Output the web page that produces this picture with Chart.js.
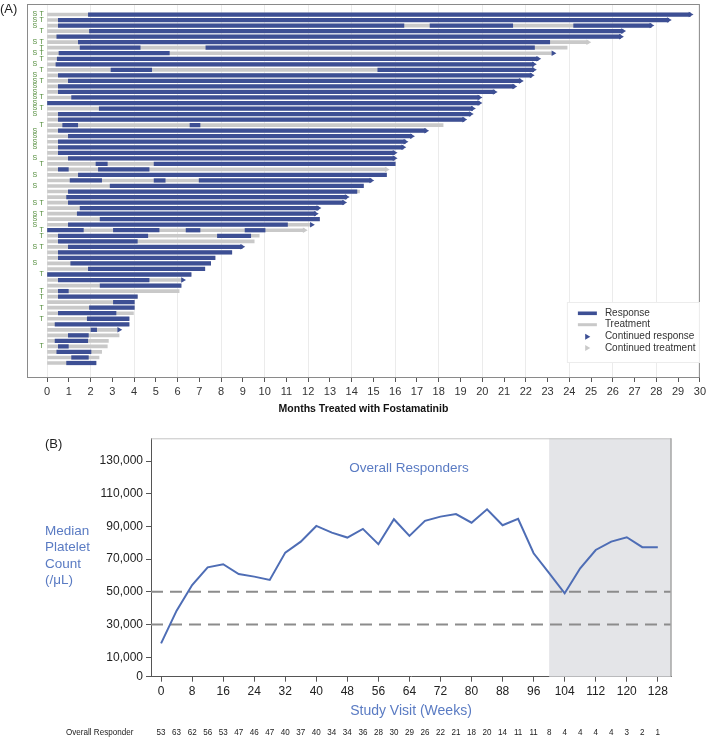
<!DOCTYPE html>
<html>
<head>
<meta charset="utf-8">
<script src="https://cdn.jsdelivr.net/npm/chart.js@4.4.0/dist/chart.umd.min.js"></script>
<style>
  html, body { margin: 0; padding: 0; background: #fff; }
  #wrap { position: relative; width: 709px; height: 739px; overflow: hidden; font-family: 'Liberation Sans', Arial, sans-serif; }
  #swim { position: absolute; left: 0; top: 0; }
  #plt { position: absolute; left: 0; top: 420px; }
  .tag { position: absolute; font-size: 13px; color: #222; line-height: 15px; }
</style>
</head>
<body>
<div id="wrap">
  <canvas id="swim" width="709" height="425"></canvas>
  <canvas id="plt" width="709" height="319"></canvas>
  <div class="tag" style="left:0px;top:1px">(A)</div>
  <div class="tag" style="left:45px;top:436px">(B)</div>
</div>
<script>
// ---------- panel A: swimmer plot, one row per patient (top to bottom) ----------
// end of treatment (months)
var treatEnd = [29.7, 28.7, 27.9, 26.6, 26.5, 25.0, 23.9, 23.4, 22.7, 22.5,
  22.5, 22.4, 21.9, 21.6, 20.7, 20.0, 20.0, 19.7, 19.6, 19.3,
  18.2, 17.55, 16.9, 16.6, 16.5, 16.1, 16.1, 16.0, 15.74, 15.6,
  15.03, 14.54, 14.36, 13.9, 13.78, 12.6, 12.48, 12.52, 12.3, 11.97,
  9.75, 9.52, 9.1, 8.49, 7.72, 7.52, 7.25, 6.62, 6.38, 6.16,
  6.07, 4.15, 4.01, 4.01, 3.97, 3.77, 3.77, 3.45, 3.31, 2.82,
  2.77, 2.51, 2.39, 2.25];

// response periods (months) per row
var responseSpans = [
  [[1.9, 29.7]], [[0.52, 28.7]], [[0.52, 16.4], [17.6, 21.4], [24.2, 27.9]], [[1.95, 26.6]], [[0.45, 26.5]],
  [[1.44, 23.1]], [[1.52, 4.28], [7.3, 22.4]], [[0.55, 5.62]], [[0.47, 22.7]], [[0.41, 22.5]],
  [[2.94, 4.81], [15.2, 22.5]], [[0.52, 22.4]], [[0.98, 21.9]], [[0.52, 21.6]], [[0.52, 20.7]],
  [[1.13, 20.0]], [[0, 20.0]], [[2.4, 19.7]], [[0.52, 19.6]], [[0.52, 19.3]],
  [[0.72, 1.41], [6.57, 7.03]], [[0.52, 17.55]], [[0.98, 16.9]], [[0.52, 16.6]], [[0.52, 16.5]],
  [[0.52, 16.1]], [[0.98, 16.1]], [[2.25, 2.77], [4.92, 16.0]], [[0.52, 0.98], [2.36, 4.69]], [[1.44, 15.6]],
  [[1.06, 2.51], [4.92, 5.43], [6.99, 15.03]], [[2.9, 14.54]], [[0.98, 14.24]], [[0.9, 13.9]], [[0.98, 13.78]],
  [[1.52, 12.6]], [[1.39, 12.48]], [[2.44, 12.52]], [[0.98, 11.05]], [[0, 1.67], [3.05, 5.15], [6.39, 7.03], [9.1, 10.02]],
  [[0.52, 4.63], [7.83, 9.36]], [[0.52, 4.15]], [[0.98, 9.1]], [[0.52, 8.49]], [[0.52, 7.72]],
  [[1.09, 7.52]], [[1.9, 7.25]], [[0, 6.62]], [[0.52, 4.69]], [[2.44, 6.16]],
  [[0.52, 0.98]], [[0.52, 4.15]], [[3.05, 4.01]], [[1.95, 4.01]], [[0.52, 3.17]],
  [[1.85, 3.77]], [[0.37, 3.77]], [[2.02, 2.28]], [[0.98, 1.9]], [[0.37, 1.87]],
  [[0.52, 0.98]], [[0.45, 2.02]], [[1.13, 1.9]], [[0.9, 2.25]]
];

// R = continued response, T = continued treatment
var arrowKind = ['R', 'R', 'R', 'R', 'R', 'T', '', 'R', 'R', 'R',
  'R', 'R', 'R', 'R', 'R', 'R', 'R', 'R', 'R', 'R',
  '', 'R', 'R', 'R', 'R', 'R', 'R', '', 'T', '',
  'R', '', '', 'R', 'R', 'R', 'R', '', 'R', 'T',
  '', '', 'R', '', '', '', '', '', 'R', '',
  '', '', '', '', '', '', '', 'R', '', '',
  '', '', '', ''];

var stLabels = ['S T', 'S T', 'S', 'T', '', 'S T', 'T', 'S T', 'T', 'S',
  'T', 'S', 'S T', 'S', 'S', 'S T', 'S', 'S T', 'S', '',
  'T', 'S', 'S', 'S', 'S', '', 'S', 'T', '', 'S',
  '', 'S', '', '', 'S T', '', 'S T', 'S', 'S', 'T',
  'T', '', 'S T', '', '', 'S', '', 'T', '', '',
  'T', 'T', '', 'T', '', 'T', '', '', '', '',
  'T', '', '', ''];

var monthTicks = [0, 1, 2, 3, 4, 5, 6, 7, 8, 9, 10, 11, 12, 13, 14, 15, 16, 17, 18, 19, 20,
  21, 22, 23, 24, 25, 26, 27, 28, 29, 30];

// ---------- panel B: median platelet count ----------
var studyWeek = [0, 4, 8, 12, 16, 20, 24, 28, 32, 36, 40, 44, 48, 52, 56, 60, 64,
  68, 72, 76, 80, 84, 88, 92, 96, 100, 104, 108, 112, 116, 120, 124, 128];
var medianCount = [18500, 38500, 54200, 65000, 66900, 60900, 59300, 57300, 74000, 80700, 90300,
  86200, 83200, 88500, 79100, 94400, 84200, 93400, 96000, 97600, 92300, 100500,
  90700, 94600, 73600, 61400, 49100, 64400, 75600, 80700, 83400, 77300, 77300];
var responders = [53, 63, 62, 56, 53, 47, 46, 47, 40, 37, 40, 34, 34, 36, 28, 30, 29,
  26, 22, 21, 18, 20, 14, 11, 11, 8, 4, 4, 4, 4, 3, 2, 1];
var weekTicks = [0, 8, 16, 24, 32, 40, 48, 56, 64, 72, 80, 88, 96, 104, 112, 120, 128];
var countTicks = [10000, 30000, 50000, 70000, 90000, 110000, 130000];
var thresholds = [50000, 30000];
var shadeFrom = 100;

Chart.defaults.font.family = "'Liberation Sans', Arial, Helvetica, sans-serif";
Chart.defaults.animation = false;

var BLUE = '#3d4f94';
var GREY = '#c9c9c9';
var TXT_BLUE = '#5a7bc3';
var tipBack = 0.14;   // arrow centre sits a little before its tip

function barEnd(i) { return arrowKind[i] ? treatEnd[i] - tipBack : treatEnd[i]; }

var treatBars = treatEnd.map(function (e, i) { return { x: [0, barEnd(i)], y: i + 1 }; });
var respLayers = [];
responseSpans.forEach(function (spans, i) {
  spans.forEach(function (s, k) {
    respLayers[k] = respLayers[k] || [];
    respLayers[k].push({ x: [s[0], Math.min(s[1], barEnd(i))], y: i + 1 });
  });
});
function arrowsOf(kind) {
  var out = [];
  arrowKind.forEach(function (a, i) { if (a === kind) out.push({ x: treatEnd[i] - tipBack, y: i + 1 }); });
  return out;
}

var swimSets = [
  { type: 'scatter', label: 'Continued response', data: arrowsOf('R'), pointStyle: 'triangle', pointRotation: 90,
    pointRadius: 3.2, pointBackgroundColor: BLUE, pointBorderWidth: 0, order: 0 },
  { type: 'scatter', label: 'Continued treatment', data: arrowsOf('T'), pointStyle: 'triangle', pointRotation: 90,
    pointRadius: 3.2, pointBackgroundColor: GREY, pointBorderWidth: 0, order: 0 }
];
respLayers.forEach(function (d) {
  swimSets.push({ type: 'bar', label: 'Response', indexAxis: 'y', grouped: false, data: d,
    backgroundColor: BLUE, barThickness: 3.6, order: 1 });
});
swimSets.push({ type: 'bar', label: 'Treatment', indexAxis: 'y', grouped: false, data: treatBars,
  backgroundColor: GREY, barThickness: 3, order: 2 });

function triangle(ctx, x, y, r, color) {
  ctx.fillStyle = color;
  ctx.beginPath();
  ctx.moveTo(x + r, y);
  ctx.lineTo(x - r / 2, y - r * 0.866);
  ctx.lineTo(x - r / 2, y + r * 0.866);
  ctx.closePath();
  ctx.fill();
}

var swimDecor = {
  id: 'swimDecor',
  beforeDatasetsDraw: function (chart) {
    var ctx = chart.ctx, a = chart.chartArea;
    ctx.save();
    ctx.strokeStyle = '#8a8a8a';
    ctx.lineWidth = 1;
    ctx.strokeRect(a.left + 0.5, a.top + 0.5, a.right - a.left - 1, a.bottom - a.top);
    ctx.restore();
  },
  afterDraw: function (chart) {
    var ctx = chart.ctx, a = chart.chartArea, x = chart.scales.x, y = chart.scales.y;
    ctx.save();
    // S / T markers
    ctx.font = "7px 'Liberation Sans', Arial, sans-serif";
    ctx.fillStyle = '#4f8a37';
    ctx.textBaseline = 'middle';
    ctx.textAlign = 'left';
    stLabels.forEach(function (lab, i) {
      var py = y.getPixelForValue(i + 1);
      if (lab.indexOf('S') >= 0) ctx.fillText('S', x.getPixelForValue(-0.67), py);
      if (lab.indexOf('T') >= 0) ctx.fillText('T', x.getPixelForValue(-0.35), py);
    });
    // legend
    var bw = 133, bh = 61, bx = a.right - bw, by = a.bottom - 75;
    ctx.fillStyle = '#fff';
    ctx.fillRect(bx, by, bw, bh);
    ctx.strokeStyle = '#ececec';
    ctx.strokeRect(bx + 0.5, by + 0.5, bw - 1, bh - 1);
    var items = [
      { t: 'Response', kind: 'line', c: BLUE, w: 3.6 },
      { t: 'Treatment', kind: 'line', c: GREY, w: 3 },
      { t: 'Continued response', kind: 'tri', c: BLUE },
      { t: 'Continued treatment', kind: 'tri', c: GREY }
    ];
    var rowsY = [11.3, 22.7, 34.7, 46];
    ctx.font = "10px 'Liberation Sans', Arial, sans-serif";
    items.forEach(function (it, k) {
      var cy = by + rowsY[k];
      if (it.kind === 'line') {
        ctx.strokeStyle = it.c;
        ctx.lineWidth = it.w;
        ctx.beginPath();
        ctx.moveTo(bx + 11, cy);
        ctx.lineTo(bx + 30, cy);
        ctx.stroke();
      } else {
        triangle(ctx, bx + 20, cy, 3.4, it.c);
      }
      ctx.fillStyle = '#333';
      ctx.fillText(it.t, bx + 38, cy);
    });
    ctx.restore();
  }
};

new Chart(document.getElementById('swim'), {
  type: 'bar',
  data: { datasets: swimSets },
  options: {
    responsive: false,
    layout: { padding: { left: 27, right: 9, top: 3.5, bottom: 9.7 } },
    plugins: { legend: { display: false }, tooltip: { enabled: false } },
    scales: {
      x: {
        type: 'linear', min: -0.92, max: 30, offset: false, beginAtZero: false,
        afterBuildTicks: function (s) { s.ticks = monthTicks.map(function (v) { return { value: v }; }); },
        afterFit: function (s) { s.height = 38.3; },
        grid: {
          offset: false,
          color: function (c) { return (c.tick && c.tick.value % 2 === 0) ? '#ebebeb' : 'rgba(0,0,0,0)'; },
          tickColor: '#555', tickLength: 5
        },
        border: { display: false },
        ticks: { font: { size: 11 }, color: '#333', padding: 3, autoSkip: false, maxRotation: 0 },
        title: { display: true, text: 'Months Treated with Fostamatinib', color: '#111',
          font: { size: 10.5, weight: 'bold' }, padding: 0 }
      },
      y: { type: 'linear', display: false, reverse: true, min: -0.9, max: 66.53, offset: false,
        beginAtZero: false, grid: { offset: false } }
    }
  },
  plugins: [swimDecor]
});

// ---------- panel B ----------
var xMin = -2.6, xMax = 131.4;
var plotSets = [{
  type: 'line', label: 'Overall Responders',
  data: studyWeek.map(function (w, i) { return { x: w, y: medianCount[i] }; }),
  borderColor: '#4e6db5', borderWidth: 2, pointRadius: 0, tension: 0, order: 0
}];
thresholds.forEach(function (t) {
  plotSets.push({ type: 'line', data: [{ x: xMin, y: t }, { x: xMax, y: t }],
    borderColor: '#8c8c8c', borderWidth: 2, borderDash: [12, 7], pointRadius: 0, order: 1 });
});

var plotDecor = {
  id: 'plotDecor',
  beforeDatasetsDraw: function (chart) {
    var ctx = chart.ctx, a = chart.chartArea, x = chart.scales.x;
    var sx = x.getPixelForValue(shadeFrom);
    ctx.save();
    ctx.fillStyle = '#e4e5e8';
    ctx.fillRect(sx, a.top, a.right - sx, a.bottom - a.top);
    ctx.restore();
  },
  afterDraw: function (chart) {
    var ctx = chart.ctx, a = chart.chartArea, x = chart.scales.x;
    ctx.save();
    // frame top / right
    ctx.strokeStyle = '#c4c4c4';
    ctx.lineWidth = 1;
    ctx.beginPath();
    ctx.moveTo(a.left, a.top + 0.5);
    ctx.lineTo(a.right, a.top + 0.5);
    ctx.stroke();
    ctx.strokeStyle = '#a6a6a6';
    ctx.lineWidth = 1.5;
    ctx.beginPath();
    ctx.moveTo(a.right, a.top);
    ctx.lineTo(a.right, a.bottom);
    ctx.stroke();
    // y title (horizontal, stacked)
    ctx.fillStyle = TXT_BLUE;
    ctx.font = "13.5px 'Liberation Sans', Arial, sans-serif";
    ctx.textAlign = 'left';
    ctx.textBaseline = 'middle';
    ['Median', 'Platelet', 'Count', '(/\u03bcL)'].forEach(function (t, k) {
      ctx.fillText(t, 45, a.top + 92.7 + k * 16.4);
    });
    // series label
    ctx.textAlign = 'center';
    ctx.fillText('Overall Responders', (a.left + a.right) / 2 - 2, a.top + 29.7);
    // responder counts row
    var rowY = a.bottom + 56;
    ctx.fillStyle = '#222';
    ctx.font = "9.5px 'Liberation Sans', Arial, sans-serif";
    ctx.textAlign = 'left';
    ctx.save();
    ctx.translate(66, rowY);
    ctx.scale(0.85, 1);
    ctx.fillText('Overall Responder', 0, 0);
    ctx.restore();
    ctx.textAlign = 'center';
    studyWeek.forEach(function (w, i) {
      ctx.save();
      ctx.translate(x.getPixelForValue(w), rowY);
      ctx.scale(0.85, 1);
      ctx.fillText(String(responders[i]), 0, 0);
      ctx.restore();
    });
    ctx.restore();
  }
};

new Chart(document.getElementById('plt'), {
  type: 'line',
  data: { datasets: plotSets },
  options: {
    responsive: false,
    layout: { padding: { left: 0, right: 38, top: 18.3, bottom: 19 } },
    plugins: { legend: { display: false }, tooltip: { enabled: false } },
    scales: {
      x: {
        type: 'linear', min: xMin, max: xMax,
        afterBuildTicks: function (s) { s.ticks = weekTicks.map(function (v) { return { value: v }; }); },
        afterFit: function (s) { s.height = 43.3; },
        grid: { drawOnChartArea: false, tickColor: '#555', tickLength: 5 },
        border: { color: '#555' },
        ticks: { font: { size: 12 }, color: '#222', padding: 3, autoSkip: false, maxRotation: 0 },
        title: { display: true, text: 'Study Visit (Weeks)', color: TXT_BLUE, font: { size: 14 }, padding: 0 }
      },
      y: {
        type: 'linear', min: -1900, max: 143900,
        afterBuildTicks: function (s) {
          s.ticks = [{ value: s.min }].concat(countTicks.map(function (v) { return { value: v }; }));
        },
        afterFit: function (s) { s.width = 151; },
        grid: { drawOnChartArea: false, tickColor: '#555', tickLength: 5 },
        border: { color: '#555' },
        ticks: {
          font: { size: 12 }, color: '#222', padding: 3,
          callback: function (v) { return v < 0 ? '0' : v.toLocaleString('en-US'); }
        }
      }
    }
  },
  plugins: [plotDecor]
});
</script>
</body>
</html>
